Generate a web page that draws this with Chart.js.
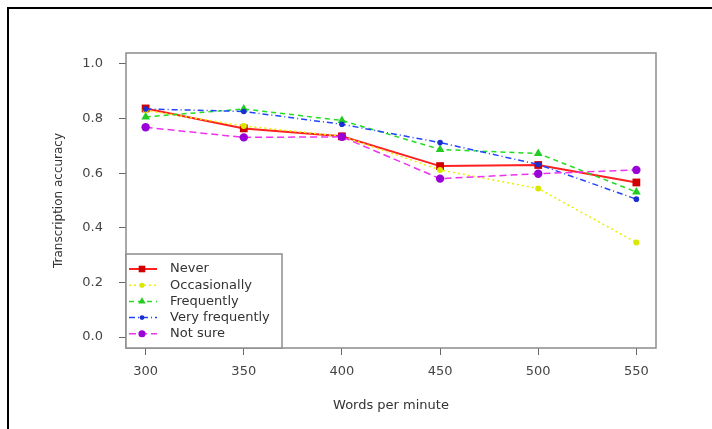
<!DOCTYPE html>
<html>
<head>
<meta charset="utf-8">
<script src="https://cdn.jsdelivr.net/npm/chart.js@4.4.1/dist/chart.umd.min.js"></script>
<style>
  html, body { margin: 0; padding: 0; background: #fff; }
  #wrap { position: relative; width: 712px; height: 429px; overflow: hidden; }
  #frame { position: absolute; left: 7px; top: 7px; width: 720px; height: 440px;
           border-top: 2px solid #000; border-left: 2px solid #000; }
  #chart { position: absolute; left: 0; top: 0; }
</style>
</head>
<body>
<div id="wrap">
  <div id="frame"></div>
  <canvas id="chart" width="712" height="429"></canvas>
</div>
<script>
// valores
var wpm = [300, 350, 400, 450, 500, 550];
var never = [0.837, 0.764, 0.735, 0.626, 0.630, 0.566];
var occasionally = [0.830, 0.773, 0.735, 0.612, 0.544, 0.346];
var frequently = [0.806, 0.835, 0.793, 0.687, 0.672, 0.531];
var veryFrequently = [0.835, 0.826, 0.779, 0.712, 0.632, 0.505];
var notSure = [0.768, 0.731, 0.733, 0.580, 0.598, 0.612];

var seriesNames = ['Never', 'Occasionally', 'Frequently', 'Very frequently', 'Not sure'];
var xTicks = [300, 350, 400, 450, 500, 550];
var yTicks = [0, 0.2, 0.4, 0.6, 0.8, 1.0];

function pts(arr) {
    return wpm.map(function(x, i) { return { x: x, y: arr[i] }; });
}

Chart.defaults.font.family = "'DejaVu Sans', 'Liberation Sans', sans-serif";
Chart.defaults.font.size = 13;
Chart.defaults.color = '#444';

var styles = [
    { line: '#ff2020', point: '#d00000', dash: [], width: 2, shape: 'rect', r: 5.5, order: 5 },
    { line: '#e8f000', point: '#d8e800', dash: [2, 3], width: 1.5, shape: 'circle', r: 3, order: 4 },
    { line: '#22dd22', point: '#22cc22', dash: [5, 4], width: 1.5, shape: 'triangle', r: 5, order: 3 },
    { line: '#2244ff', point: '#1a2fd0', dash: [6, 3, 1, 3], width: 1.5, shape: 'circle', r: 2.8, order: 2 },
    { line: '#ee33ee', point: '#9a00d8', dash: [7, 4], width: 1.5, shape: 'circle', r: 4.2, order: 1 }
];
var values = [never, occasionally, frequently, veryFrequently, notSure];

var datasets = values.map(function(arr, i) {
    var s = styles[i];
    return {
        label: seriesNames[i],
        data: pts(arr),
        borderColor: s.line,
        borderWidth: s.width,
        borderDash: s.dash,
        pointStyle: s.shape,
        pointRadius: s.r,
        pointBackgroundColor: s.point,
        pointBorderColor: s.point,
        pointBorderWidth: 0,
        tension: 0,
        fill: false,
        order: s.order
    };
});

function drawMark(ctx, shape, x, y, r, color) {
    ctx.save();
    ctx.fillStyle = color;
    ctx.beginPath();
    if (shape === 'rect') {
        var h = r * Math.SQRT1_2;
        ctx.rect(x - h, y - h, 2 * h, 2 * h);
    } else if (shape === 'triangle') {
        ctx.moveTo(x, y - r);
        ctx.lineTo(x + r * 0.866, y + r * 0.5);
        ctx.lineTo(x - r * 0.866, y + r * 0.5);
        ctx.closePath();
    } else {
        ctx.arc(x, y, r, 0, Math.PI * 2);
    }
    ctx.fill();
    ctx.restore();
}

// marco del área de trazado y leyenda en la esquina inferior izquierda
var boxAndLegend = {
    id: 'boxAndLegend',
    afterDatasetsDraw: function(chart) {
        var ctx = chart.ctx, a = chart.chartArea;
        ctx.save();
        ctx.strokeStyle = '#8c8c8c';
        ctx.lineWidth = 1.5;
        ctx.strokeRect(a.left, a.top, a.right - a.left, a.bottom - a.top);

        var lx = a.left, ly = a.bottom - 94, lw = 156, lh = 94;
        ctx.fillStyle = '#fff';
        ctx.fillRect(lx, ly, lw, lh);
        ctx.strokeRect(lx, ly, lw, lh);

        chart.data.datasets.forEach(function(ds, i) {
            var s = styles[i];
            var yy = ly + 15 + i * 16.2;
            ctx.save();
            ctx.strokeStyle = s.line;
            ctx.lineWidth = s.width;
            ctx.setLineDash(s.dash);
            ctx.beginPath();
            ctx.moveTo(lx + 3, yy);
            ctx.lineTo(lx + 31, yy);
            ctx.stroke();
            ctx.restore();
            drawMark(ctx, s.shape, lx + 16, yy, s.r * 0.85, s.point);
            ctx.fillStyle = '#333';
            ctx.font = "13px 'DejaVu Sans', sans-serif";
            ctx.textBaseline = 'middle';
            ctx.textAlign = 'left';
            ctx.fillText(ds.label, lx + 44, yy);
        });
        ctx.restore();
    }
};

var ctx = document.getElementById('chart').getContext('2d');
var chart = new Chart(ctx, {
    type: 'line',
    data: { datasets: datasets },
    options: {
        responsive: false,
        animation: false,
        layout: { padding: { top: 53, right: 56, bottom: 0, left: 0 } },
        plugins: { legend: { display: false }, tooltip: { enabled: false } },
        scales: {
            x: {
                type: 'linear',
                min: 290,
                max: 560,
                afterBuildTicks: function(scale) {
                    scale.ticks = xTicks.map(function(v) { return { value: v }; });
                },
                afterFit: function(scale) { scale.height = 81; },
                ticks: { padding: 9, color: '#444', callback: function(v) { return String(v); } },
                grid: { drawOnChartArea: false, tickLength: 7, tickColor: '#666', tickWidth: 1 },
                border: { display: false },
                title: { display: true, text: 'Words per minute', color: '#333', padding: { top: 0, bottom: 16 } }
            },
            y: {
                type: 'linear',
                min: -0.04,
                max: 1.04,
                afterBuildTicks: function(scale) {
                    scale.ticks = yTicks.map(function(v) { return { value: v }; });
                },
                afterFit: function(scale) { scale.width = 126; },
                ticks: { padding: 16, color: '#444', callback: function(v) { return v.toFixed(1); } },
                grid: { drawOnChartArea: false, tickLength: 7, tickColor: '#666', tickWidth: 1 },
                border: { display: false },
                title: { display: true, text: 'Transcription accuracy', color: '#333', font: { size: 12 }, padding: { top: 52, bottom: 0 } }
            }
        }
    },
    plugins: [boxAndLegend]
});
</script>
</body>
</html>
